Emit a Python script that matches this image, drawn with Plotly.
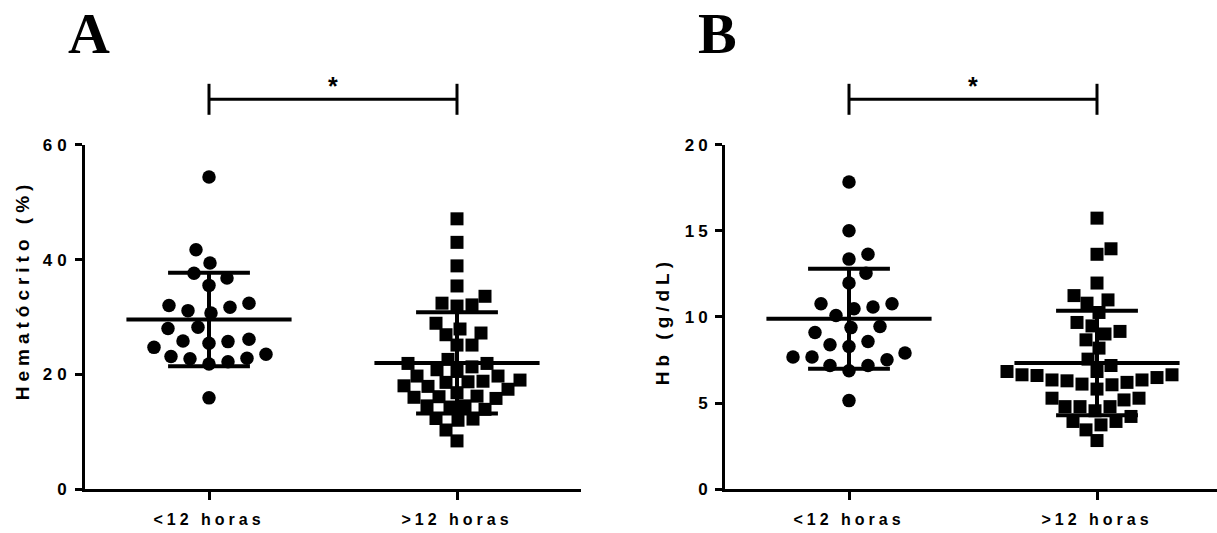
import numpy as np
import plotly.graph_objects as go

# ---------------- data ----------------
categories = ["<12 horas", ">12 horas"]

hct_lt12 = [54.4, 41.7, 39.4, 37.6, 36.8, 35.5, 32.0, 31.1, 30.7, 31.7, 32.4, 28.0, 28.2,
            25.8, 25.4, 25.7, 26.1, 24.7, 23.5, 22.8, 22.2, 21.8, 22.7, 23.1, 15.9]
hct_gt12 = [47.1, 43.0, 38.9, 35.4, 33.6, 32.4, 32.1, 31.9, 28.9, 27.9, 26.9, 27.2, 25.1,
            25.1, 22.6, 21.9, 20.8, 19.7, 19.7, 20.5, 21.3, 21.9, 19.0, 18.7, 18.0, 17.4,
            16.1, 15.8, 16.0, 16.2, 16.8, 17.9, 18.6, 18.8, 14.5, 13.9, 14.3, 14.5, 12.2,
            12.0, 12.3, 10.3, 8.4]
hb_lt12 = [17.84, 15.01, 13.64, 13.36, 12.54, 11.97, 10.77, 10.48, 10.08, 10.58, 10.77,
           9.38, 9.44, 9.10, 8.57, 8.28, 8.38, 7.90, 7.67, 7.51, 7.18, 6.87, 7.18, 7.67, 5.14]
hb_gt12 = [15.74, 13.96, 13.64, 11.97, 11.24, 10.80, 10.99, 10.26, 9.68, 9.48, 9.01, 9.16,
           8.67, 8.19, 7.55, 7.18, 6.83, 6.64, 6.60, 6.64, 6.83, 6.34, 6.29, 6.10, 5.81,
           6.06, 6.20, 6.34, 6.48, 5.28, 5.28, 5.18, 4.79, 4.55, 4.79, 4.79, 4.22, 3.73,
           3.93, 3.93, 3.44, 2.82]

hct_ticks = [0, 20, 40, 60]
hb_ticks = [0, 5, 10, 15, 20]
panel_labels = ["A", "B"]
y_titles = ["Hematócrito (%)", "Hb (g/dL)"]
sig_label = "*"

# ---------------- geometry ----------------
W, H = 1217, 533
PX_PER_X = 248.0
Y_OFF, Y_SPAN = 9.2, 514.0   # empirical vertical mapping of the rendered page


def py(ypx):
    """target pixel row -> paper fraction"""
    return 1 - (ypx - Y_OFF) / Y_SPAN


y_bot_px, y_top_px = 489.3, 145.0
y_dom = [py(y_bot_px), py(y_top_px)]
x_dom_a = [85 / W, 581 / W]
x_dom_b = [725 / W, 1.0]
x_range_a = [0.5, 2.5]
x_range_b = [0.5, 0.5 + (W - 725) / PX_PER_X]


def swarm(values, ymax, min_dist):
    """Simple beeswarm: offsets (in x data units) so markers don't collide."""
    vals = np.asarray(values, dtype=float)
    px_per_y = (y_bot_px - y_top_px) / ymax
    order = np.argsort(vals)
    placed = []
    offs = np.zeros(len(vals))
    flip = 1
    for i in order:
        y = vals[i] * px_per_y
        chosen = 0.0
        for k in range(0, 400):
            found = False
            for c in ([0.0] if k == 0 else [flip * k, -flip * k]):
                if all((c - px) ** 2 + (y - py_) ** 2 >= min_dist ** 2 for px, py_ in placed):
                    chosen = c
                    found = True
                    break
            if found:
                break
        flip = -flip
        placed.append((chosen, y))
        offs[i] = chosen / PX_PER_X
    return offs


def mean_sd_traces(vals, center, xa, ya):
    m = float(np.mean(vals))
    s = float(np.std(vals, ddof=1))
    hw, cw = 0.333, 0.165
    xs = [center - hw, center + hw, None, center, center, None,
          center - cw, center + cw, None, center - cw, center + cw]
    ys = [m, m, None, m - s, m + s, None, m + s, m + s, None, m - s, m - s]
    return go.Scatter(x=xs, y=ys, mode="lines", xaxis=xa, yaxis=ya,
                      line=dict(color="black", width=4), hoverinfo="skip",
                      showlegend=False)


fig = go.Figure()

panels = [
    (hct_lt12, hct_gt12, 60, "x", "y"),
    (hb_lt12, hb_gt12, 20, "x2", "y2"),
]
for g1, g2, ymax, xa, ya in panels:
    o1 = swarm(g1, ymax, 19.0)
    o2 = swarm(g2, ymax, 15.0)
    fig.add_trace(go.Scatter(x=1 + o1, y=g1, mode="markers", xaxis=xa, yaxis=ya,
                             marker=dict(symbol="circle", size=13.5, color="black"),
                             showlegend=False, cliponaxis=False))
    fig.add_trace(go.Scatter(x=2 + o2, y=g2, mode="markers", xaxis=xa, yaxis=ya,
                             marker=dict(symbol="square", size=13, color="black"),
                             showlegend=False, cliponaxis=False))
    fig.add_trace(mean_sd_traces(g1, 1, xa, ya))
    fig.add_trace(mean_sd_traces(g2, 2, xa, ya))

xtick_font = dict(family="Liberation Sans, Arial", size=16, color="black", weight="bold")
ytick_font = dict(family="Liberation Sans, Arial", size=17, color="black", weight="bold")
axis_common = dict(showline=True, linewidth=3, linecolor="black", showgrid=False,
                   zeroline=False, ticks="outside", tickwidth=3, tickcolor="black")

fig.update_layout(
    width=W, height=H,
    margin=dict(l=0, r=0, t=0, b=0),
    paper_bgcolor="white", plot_bgcolor="white",
    showlegend=False,
    xaxis=dict(domain=x_dom_a, range=x_range_a, tickvals=[1, 2], ticktext=categories,
               ticklen=8, anchor="y", tickfont=xtick_font, ticklabelstandoff=6,
               **axis_common),
    yaxis=dict(domain=y_dom, range=[0, 60], tickvals=hct_ticks, ticklen=7,
               anchor="x", tickfont=ytick_font, **axis_common),
    xaxis2=dict(domain=x_dom_b, range=x_range_b, tickvals=[1, 2], ticktext=categories,
                ticklen=8, anchor="y2", tickfont=xtick_font, ticklabelstandoff=6,
                **axis_common),
    yaxis2=dict(domain=y_dom, range=[0, 20], tickvals=hb_ticks, ticklen=7,
                anchor="x2", tickfont=ytick_font, **axis_common),
)

# significance bars
bar_y = py(99.5)
tick_top = py(84)
tick_bot = py(115)
shapes = []
for xr in ["x", "x2"]:
    shapes.append(dict(type="line", xref=xr, yref="paper", x0=1, x1=2, y0=bar_y, y1=bar_y,
                       line=dict(color="black", width=3)))
    for xc in (1, 2):
        shapes.append(dict(type="line", xref=xr, yref="paper", x0=xc, x1=xc,
                           y0=tick_bot, y1=tick_top, line=dict(color="black", width=3)))
fig.update_layout(shapes=shapes)

annotations = []
# panel letters
for lbl, xp in zip(panel_labels, [89 / W, 717 / W]):
    annotations.append(dict(text=lbl, xref="paper", yref="paper", x=xp, y=py(34),
                            xanchor="center", yanchor="middle", showarrow=False,
                            font=dict(family="Liberation Serif, Times New Roman", size=58,
                                      color="black", weight="bold")))
# stars
for xr in ["x", "x2"]:
    annotations.append(dict(text=sig_label, xref=xr, yref="paper", x=1.5, y=py(86),
                            xanchor="center", yanchor="middle", showarrow=False,
                            font=dict(family="Liberation Sans, Arial", size=25,
                                      color="black", weight="bold")))
# y titles
for t, xp, yc in zip(y_titles, [23 / W, 663 / W], [290, 322]):
    annotations.append(dict(text=t, xref="paper", yref="paper", x=xp,
                            y=py(yc), textangle=-90,
                            xanchor="center", yanchor="middle", showarrow=False,
                            font=dict(family="Liberation Sans, Arial", size=19,
                                      color="black", weight="bold")))
fig.update_layout(annotations=annotations)

post = """
document.documentElement.style.margin = '0';
document.documentElement.style.overflow = 'hidden';
document.body.style.margin = '0';
document.body.style.padding = '0';
document.body.style.overflow = 'hidden';
var gd = document.getElementById('{plot_id}');
function sp(){
  gd.querySelectorAll('text').forEach(function(t){
    var s = t.textContent;
    if (s === 'A' || s === 'B' || s === '*') return;
    var sp = '4px';
    if (t.closest && t.closest('.annotation')) sp = '5px';
    else if (t.closest && t.closest('.ytick')) sp = '5px';
    t.style.letterSpacing = sp;
  });
}
sp();
gd.on('plotly_afterplot', sp);
"""

fig.write_html("out.html", post_script=post, config={"displayModeBar": False})
